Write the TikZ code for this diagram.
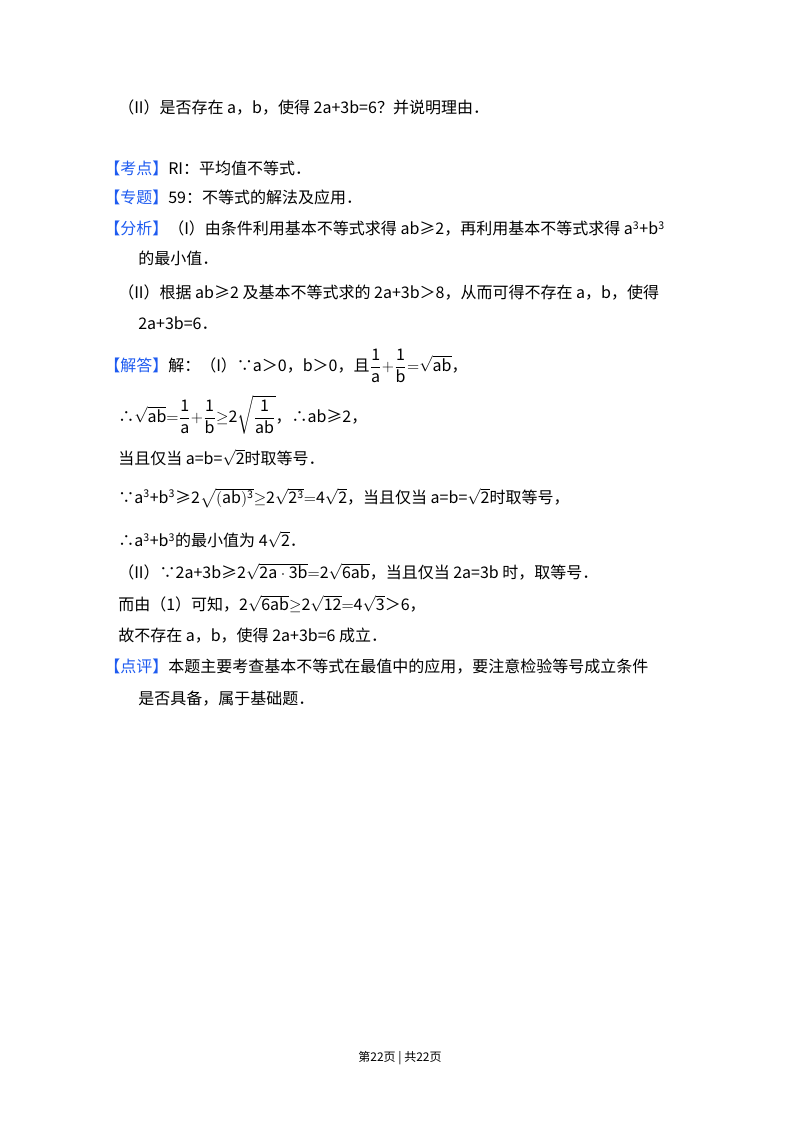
\documentclass[tikz,border=0pt]{standalone}
\usepackage{amsmath,amssymb}
\usepackage{fontspec}
\setmainfont{Noto Sans CJK SC}
\definecolor{tagblue}{HTML}{1E5BF0}
\newcommand{\tg}[1]{\textcolor{tagblue}{【#1】}}
\newcommand{\mth}[1]{{\fontspec{Latin Modern Roman}$\mathrm{#1}$}}
\newcommand{\dmth}[1]{{\fontspec{Latin Modern Roman}$\displaystyle\mathrm{#1}$}}
\begin{document}
\begin{tikzpicture}[x=0.75pt,y=-0.75pt,
  ln/.style={anchor=west,inner sep=0pt,font=\fontsize{12}{14}\selectfont},
  ft/.style={inner sep=0pt,font=\fontsize{9}{11}\selectfont}]
\useasboundingbox (0,0) rectangle (800,1132);
\node[ln] (l1) at (118,108) {（II）是否存在 a，b，使得 2a+3b=6？并说明理由．};
\node[ln] (l2) at (104,168) {\tg{考点}RI：平均值不等式．};
\node[ln] (l3) at (104,197) {\tg{专题}59：不等式的解法及应用．};
\node[ln] (l4) at (104,229) {\tg{分析}（I）由条件利用基本不等式求得 ab≥2，再利用基本不等式求得 a\textsuperscript{3}+b\textsuperscript{3}};
\node[ln] (l5) at (138,258) {的最小值．};
\node[ln] (l6) at (118,293) {（II）根据 ab≥2 及基本不等式求的 2a+3b＞8，从而可得不存在 a，b，使得};
\node[ln] (l7) at (138,323) {2a+3b=6．};
\node[ln] (l8) at (104,366) {\tg{解答}解：（I）∵a＞0，b＞0，且\dmth{\frac{1}{a}{+}\frac{1}{b}{=}\sqrt{ab}}，};
\node[ln] (l9) at (118,415) {∴\dmth{\sqrt{ab}{=}\frac{1}{a}{+}\frac{1}{b}{\geq}2\sqrt{\frac{1}{ab}}}，∴ab≥2，};
\node[ln] (l10) at (118,458) {当且仅当 a=b=\mth{\sqrt{2}}时取等号．};
\node[ln] (l11) at (118,498) {∵a\textsuperscript{3}+b\textsuperscript{3}≥2\mth{\sqrt{(ab)^3}{\geq}2\sqrt{2^3}{=}4\sqrt{2}}，当且仅当 a=b=\mth{\sqrt{2}}时取等号，};
\node[ln] (l12) at (118,540) {∴a\textsuperscript{3}+b\textsuperscript{3}的最小值为 \mth{4\sqrt{2}}．};
\node[ln] (l13) at (118,572) {（II）∵2a+3b≥2\mth{\sqrt{2a\cdot 3b}{=}2\sqrt{6ab}}，当且仅当 2a=3b 时，取等号．};
\node[ln] (l14) at (118,604) {而由（1）可知，2\mth{\sqrt{6ab}{\geq}2\sqrt{12}{=}4\sqrt{3}}＞6，};
\node[ln] (l15) at (118,636) {故不存在 a，b，使得 2a+3b=6 成立．};
\node[ln] (l16) at (104,667) {\tg{点评}本题主要考查基本不等式在最值中的应用，要注意检验等号成立条件};
\node[ln] (l17) at (138,699) {是否具备，属于基础题．};
\node[ft] (pg) at (400,1058) {第22页 | 共22页};
\end{tikzpicture}
\end{document}
